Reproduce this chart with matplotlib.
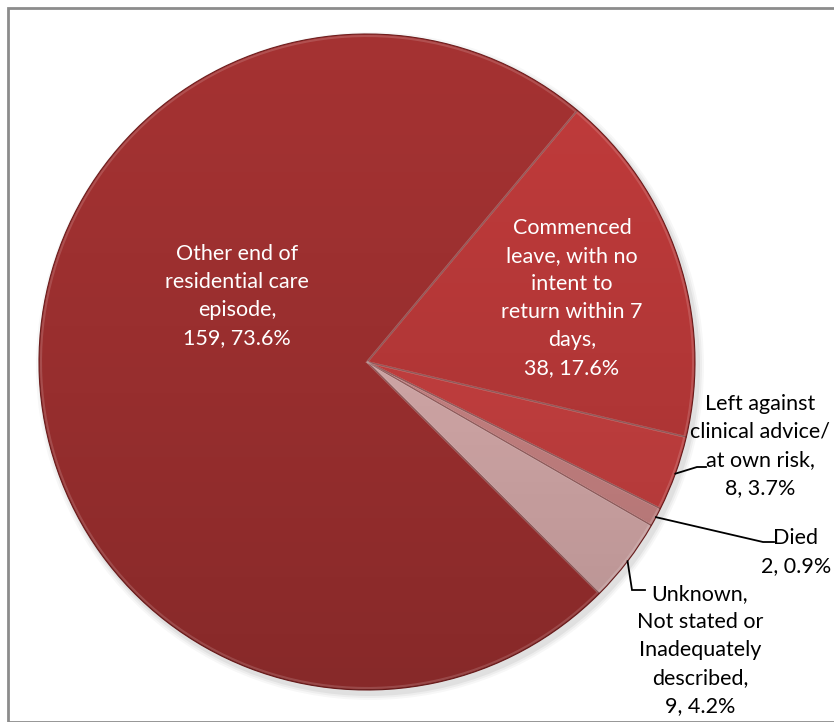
import numpy as np
import matplotlib
matplotlib.use("Agg")
import matplotlib.pyplot as plt
from matplotlib.patches import Circle, Rectangle, Wedge

# Residential care episode end reasons
categories = [
    "Commenced\nleave, with no\nintent to\nreturn within 7\ndays,",
    "Left against\nclinical advice/\nat own risk,",
    "Died",
    "Unknown,\nNot stated or\nInadequately\ndescribed,",
    "Other end of\nresidential care\nepisode,",
]
counts = [38, 8, 2, 9, 159]
colors = ["#C03B3B", "#CD4242", "#D08888", "#DDB0B0", "#A43232"]

W, H = 834, 722
plt.rcParams["font.family"] = ["Lato", "DejaVu Sans"]

fig = plt.figure(figsize=(W / 100, H / 100), dpi=100)
ax = fig.add_axes([0, 0, 1, 1])
ax.set_xlim(0, W)
ax.set_ylim(0, H)
ax.axis("off")


def py(y):
    """Convert a top-down pixel row into axis y."""
    return H - y


cx, cy, r = 367, py(362), 328
start_from_top = 39.9  # clockwise degrees from 12 o'clock

# soft drop shadow
for k, a in enumerate([0.05, 0.04, 0.03]):
    ax.add_patch(Circle((cx + 3, cy - 4), r + 2 + 2 * k, color="black",
                        alpha=a, lw=0, zorder=0))

wedges, _ = ax.pie(counts, colors=colors, startangle=90 - start_from_top,
                   counterclock=False, center=(cx, cy), radius=r,
                   wedgeprops=dict(edgecolor="#6e1e1e", linewidth=0.8))
for w in wedges:
    w.set_zorder(1)

# vertical shading across the pie: light at the top, darker at the bottom
grad = np.zeros((256, 2, 4))
t = np.linspace(0, 1, 256)[:, None]
grad[..., 3] = 0.18 * t ** 1.3
im = ax.imshow(grad, extent=(cx - r, cx + r, cy - r, cy + r), aspect="auto",
               origin="upper", zorder=2, interpolation="bilinear")
im.set_clip_path(Circle((cx, cy), r, transform=ax.transData))
ax.set_xlim(0, W)
ax.set_ylim(0, H)

# light bevel along wedge edges
for w in wedges:
    ax.add_patch(Wedge((cx, cy), r - 2, w.theta1, w.theta2, fill=False,
                       edgecolor="white", alpha=0.15, lw=1.5, zorder=3))

total = sum(counts)
labels = [f"{c}\n{n}, {100 * n / total:.1f}%" for c, n in zip(categories, counts)]

fs = 15.5
ls = 1.5
# labels inside the large wedges
ax.text(237, py(296), labels[4], color="white", ha="center", va="center",
        fontsize=fs, linespacing=ls, zorder=5)
ax.text(572, py(298), labels[0], color="white", ha="center", va="center",
        fontsize=fs, linespacing=ls, zorder=5)

# outside labels with leader lines
outside = [
    (1, (760, 446), [(697, 467), (706, 467)]),
    (2, (796, 552), [(763, 542), (774, 542)]),
    (3, (700, 650), [(632, 590), (645, 590)]),
]
for idx, (tx, ty), elbow in outside:
    w = wedges[idx]
    mid = np.deg2rad((w.theta1 + w.theta2) / 2)
    sx, sy = cx + r * np.cos(mid), cy + r * np.sin(mid)
    xs = [sx] + [p[0] for p in elbow]
    ys = [sy] + [py(p[1]) for p in elbow]
    ax.plot(xs, ys, color="black", lw=1.3, zorder=4, solid_joinstyle="miter")
    ax.text(tx, py(ty), labels[idx], color="black", ha="center", va="center",
            fontsize=fs, linespacing=ls, zorder=5)

# chart frame
fig.patches.append(Rectangle((7.5 / W, 0), 2, 1 - 7.5 / H, transform=fig.transFigure,
                             fill=False, edgecolor="#8c8c8c", lw=2))

fig.savefig("out.png", dpi=100)
